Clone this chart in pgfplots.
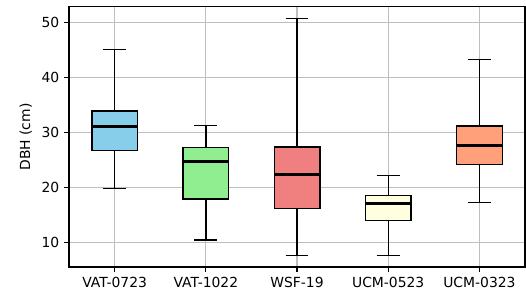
\documentclass[border=0pt]{standalone}
\usepackage{pgfplots}
\pgfplotsset{compat=1.18}
\usepackage{fontspec}
\setmainfont{DejaVu Sans}
\usepgfplotslibrary{statistics}
\definecolor{c1}{RGB}{135,206,235}
\definecolor{c2}{RGB}{144,238,144}
\definecolor{c3}{RGB}{240,128,128}
\definecolor{c4}{RGB}{255,255,224}
\definecolor{c5}{RGB}{255,160,122}
\definecolor{gridc}{RGB}{190,190,190}
\begin{document}
\begin{tikzpicture}
\begin{axis}[
  at={(0,0)}, anchor=south west,
  scale only axis, width=328.3pt, height=187.2pt,
  xmin=0.5, xmax=5.5, ymin=5.5, ymax=52.9,
  xtick={1,2,3,4,5},
  xticklabels={VAT-0723,VAT-1022,WSF-19,UCM-0523,UCM-0323},
  ytick={10,20,30,40,50},
  tick align=outside, major tick length=3.5pt,
  xtick pos=bottom, ytick pos=left,
  tick style={black, line width=0.8pt},
  axis line style={line width=0.8pt},
  grid=major, major grid style={gridc, line width=0.8pt},
  ylabel={DBH (cm)},
  ylabel style={font=\fontsize{10}{12}\selectfont},
  ticklabel style={font=\fontsize{10}{12}\selectfont},
  /pgf/number format/assume math mode=true,
  boxplot/draw direction=y,
  boxplot/box extend=0.5,
  boxplot/whisker extend=0.25,
  boxplot/every median/.style={line width=1.9pt, black},
  boxplot/every box/.style={line width=1pt},
  boxplot/every whisker/.style={line width=1pt},
]
\addplot[draw=black, fill=c1, boxplot prepared={draw position=1, lower whisker=19.8, lower quartile=26.7, median=31.1, upper quartile=33.9, upper whisker=45.1}] coordinates {};
\addplot[draw=black, fill=c2, boxplot prepared={draw position=2, lower whisker=10.4, lower quartile=17.9, median=24.7, upper quartile=27.3, upper whisker=31.3}] coordinates {};
\addplot[draw=black, fill=c3, boxplot prepared={draw position=3, lower whisker=7.6, lower quartile=16.2, median=22.4, upper quartile=27.4, upper whisker=50.8}] coordinates {};
\addplot[draw=black, fill=c4, boxplot prepared={draw position=4, lower whisker=7.6, lower quartile=14.0, median=17.1, upper quartile=18.5, upper whisker=22.2}] coordinates {};
\addplot[draw=black, fill=c5, boxplot prepared={draw position=5, lower whisker=17.3, lower quartile=24.2, median=27.6, upper quartile=31.2, upper whisker=43.3}] coordinates {};
\end{axis}
\pgfresetboundingbox
\path[use as bounding box] (-49.7pt,-21.6pt) rectangle (329.0pt,192.2pt);
\end{tikzpicture}
\end{document}
